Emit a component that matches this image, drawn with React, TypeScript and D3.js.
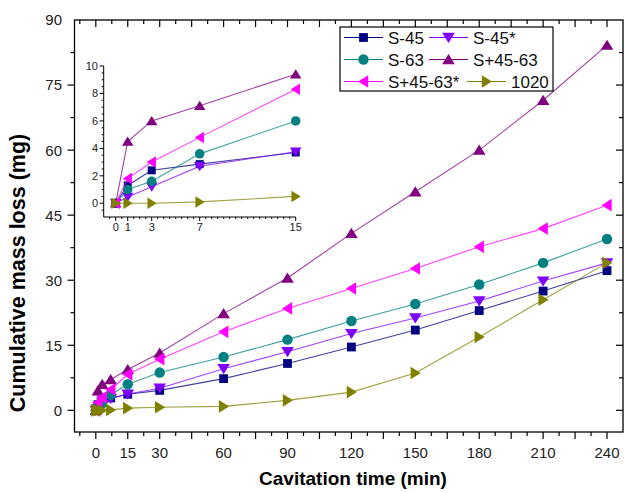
import React, { useEffect, useRef } from 'react';
import * as d3 from 'd3';

// cavitation times (min) and cumulative mass loss (mg)
const times = [0, 1, 3, 7, 15, 30, 60, 90, 120, 150, 180, 210, 240];
const s45 = [0, 1.3, 2.4, 2.85, 3.7, 4.6, 7.3, 10.8, 14.6, 18.5, 23.0, 27.5, 32.2];
const s45star = [0, 0.45, 1.2, 2.7, 3.75, 5.1, 9.6, 13.5, 17.7, 21.3, 25.2, 29.8, 34.0];
const s63 = [0, 1.0, 1.6, 3.6, 6.0, 8.7, 12.3, 16.3, 20.6, 24.5, 29.0, 34.0, 39.5];
const s4563 = [0, 4.5, 6.0, 7.1, 9.4, 13.2, 22.3, 30.5, 40.8, 50.4, 60.0, 71.5, 84.2];
const s4563star = [0, 1.8, 3.0, 4.8, 8.3, 11.8, 18.1, 23.5, 28.1, 32.7, 37.7, 41.9, 47.3];
const steel1020 = [0, 0, 0, 0.1, 0.5, 0.7, 0.9, 2.3, 4.2, 8.6, 16.9, 25.5, 34.0];

const seriesNames = ['S-45', 'S-45*', 'S-63', 'S+45-63', 'S+45-63*', '1020'];
const seriesValues = [s45, s45star, s63, s4563, s4563star, steel1020];
const seriesColors = ['#000080', '#8000ff', '#008080', '#800080', '#ff00ff', '#808000'];
const seriesShapes = ['square', 'down', 'circle', 'up', 'left', 'right'];

const xTickLabels = [0, 15, 30, 60, 90, 120, 150, 180, 210, 240];
const yTickLabels = [0, 15, 30, 45, 60, 75, 90];
const insetMaxTime = 15;
const insetXTickLabels = [0, 1, 3, 7, 15];
const insetYTickLabels = [0, 2, 4, 6, 8, 10];

const FONT = "Arial, 'Liberation Sans', sans-serif";

function markerPath(shape: string, s: number) {
  // s = half size
  switch (shape) {
    case 'square':
      return `M${-s * 0.8},${-s * 0.8}H${s * 0.8}V${s * 0.8}H${-s * 0.8}Z`;
    case 'up':
      return `M0,${-s}L${s * 1.15},${s * 0.85}L${-s * 1.15},${s * 0.85}Z`;
    case 'down':
      return `M0,${s}L${s * 1.15},${-s * 0.85}L${-s * 1.15},${-s * 0.85}Z`;
    case 'left':
      return `M${-s},0L${s * 0.85},${-s * 1.15}L${s * 0.85},${s * 1.15}Z`;
    case 'right':
      return `M${s},0L${-s * 0.85},${-s * 1.15}L${-s * 0.85},${s * 1.15}Z`;
    default:
      return `M${s * 0.95},0A${s * 0.95},${s * 0.95} 0 1,1 ${-s * 0.95},0A${s * 0.95},${s * 0.95} 0 1,1 ${s * 0.95},0Z`;
  }
}

function drawSeries(g: any, x: any, y: any, tMax: number, size: number) {
  seriesValues.forEach((vals, i) => {
    const pts = times.map((t, j) => [t, vals[j]]).filter((d) => d[0] <= tMax);
    const line = d3.line<number[]>().x((d) => x(d[0])).y((d) => y(d[1]));
    g.append('path')
      .attr('d', line(pts))
      .attr('fill', 'none')
      .attr('stroke', seriesColors[i])
      .attr('stroke-opacity', 0.75)
      .attr('stroke-width', 1.1);
    g.selectAll(null)
      .data(pts)
      .enter()
      .append('path')
      .attr('d', markerPath(seriesShapes[i], size))
      .attr('transform', (d: number[]) => `translate(${x(d[0])},${y(d[1])})`)
      .attr('fill', seriesColors[i]);
  });
}

export default function App() {
  const ref = useRef<SVGSVGElement>(null);

  useEffect(() => {
    const svg = d3.select(ref.current);
    svg.selectAll('*').remove();

    const x = d3.scaleLinear().domain([-10, 247.5]).range([74.5, 623]);
    const y = d3.scaleLinear().domain([-5, 90]).range([432, 20]);

    // frame
    svg.append('rect')
      .attr('x', x(-10)).attr('y', y(90))
      .attr('width', x(247.5) - x(-10)).attr('height', y(-5) - y(90))
      .attr('fill', 'none').attr('stroke', '#000').attr('stroke-width', 1.3);

    const isMajor = (v: number, step: number) => Math.abs(v / step - Math.round(v / step)) < 1e-6;

    const ticks = svg.append('g').attr('stroke', '#000').attr('stroke-width', 1.2);
    d3.range(-7.5, 247.5, 7.5).forEach((v) => {
      const len = isMajor(v, 15) ? 7 : 4;
      ticks.append('line').attr('x1', x(v)).attr('x2', x(v)).attr('y1', y(-5)).attr('y2', y(-5) + len);
      ticks.append('line').attr('x1', x(v)).attr('x2', x(v)).attr('y1', y(90)).attr('y2', y(90) + len);
    });
    d3.range(0, 90, 7.5).forEach((v) => {
      const len = isMajor(v, 15) ? 7 : 4;
      ticks.append('line').attr('x1', x(-10)).attr('x2', x(-10) - len).attr('y1', y(v)).attr('y2', y(v));
      ticks.append('line').attr('x1', x(247.5)).attr('x2', x(247.5) - len).attr('y1', y(v)).attr('y2', y(v));
    });

    svg.append('g').selectAll('text').data(xTickLabels).enter().append('text')
      .attr('x', (d) => x(d)).attr('y', 458)
      .attr('text-anchor', 'middle')
      .style('font-family', FONT).style('font-size', '15px').attr('fill', '#222')
      .text((d) => d);

    svg.append('g').selectAll('text').data(yTickLabels).enter().append('text')
      .attr('x', 62).attr('y', (d) => y(d)).attr('dy', '0.36em')
      .attr('text-anchor', 'end')
      .style('font-family', FONT).style('font-size', '15px').attr('fill', '#222')
      .text((d) => d);

    svg.append('text')
      .text('Cavitation time (min)')
      .attr('x', 353).attr('y', 485)
      .attr('text-anchor', 'middle')
      .style('font-family', FONT).style('font-size', '19px').style('font-weight', 'bold');

    svg.append('text')
      .text('Cumulative mass loss (mg)')
      .attr('transform', 'translate(25,273) rotate(-90)')
      .attr('text-anchor', 'middle')
      .style('font-family', FONT).style('font-size', '21.5px').style('font-weight', 'bold');

    // main data
    drawSeries(svg.append('g'), x, y, 240, 5.5);

    // inset
    const xi = d3.scaleLinear().domain([-1, 15]).range([103.7, 295.7]);
    const yi = d3.scaleLinear().domain([-1, 10]).range([217, 66]);
    const inset = svg.append('g');
    const iax = inset.append('g').attr('stroke', '#000').attr('stroke-width', 1);
    iax.append('line').attr('x1', xi(-1)).attr('x2', xi(15)).attr('y1', yi(-1)).attr('y2', yi(-1));
    iax.append('line').attr('x1', xi(-1)).attr('x2', xi(-1)).attr('y1', yi(-1)).attr('y2', yi(10));
    d3.range(-0.5, 15.01, 0.5).forEach((v) => {
      const len = insetXTickLabels.includes(v) ? 4 : 2;
      iax.append('line').attr('x1', xi(v)).attr('x2', xi(v)).attr('y1', yi(-1)).attr('y2', yi(-1) + len);
    });
    d3.range(-0.5, 10.01, 0.5).forEach((v) => {
      const len = insetYTickLabels.includes(v) ? 4 : 2;
      iax.append('line').attr('x1', xi(-1)).attr('x2', xi(-1) - len).attr('y1', yi(v)).attr('y2', yi(v));
    });
    inset.append('g').selectAll('text').data(insetXTickLabels).enter().append('text')
      .attr('x', (d) => xi(d)).attr('y', 231)
      .attr('text-anchor', 'middle')
      .style('font-family', FONT).style('font-size', '11px').attr('fill', '#222')
      .text((d) => d);
    inset.append('g').selectAll('text').data(insetYTickLabels).enter().append('text')
      .attr('x', 98).attr('y', (d) => yi(d)).attr('dy', '0.36em')
      .attr('text-anchor', 'end')
      .style('font-family', FONT).style('font-size', '11px').attr('fill', '#222')
      .text((d) => d);
    drawSeries(inset.append('g'), xi, yi, insetMaxTime, 5);

    // legend: two columns; the last row's second entry sits further right
    const legend = svg.append('g');
    legend.append('rect')
      .attr('x', 340).attr('y', 27).attr('width', 213).attr('height', 64)
      .attr('fill', '#fff').attr('stroke', '#000').attr('stroke-width', 1.2);
    const colX = [[344, 429], [344, 429], [344, 467]];
    const rowY = [37.5, 59.5, 81.5];
    seriesNames.forEach((name, i) => {
      const row = Math.floor(i / 2);
      const cx = colX[row][i % 2];
      const cy = rowY[row];
      legend.append('line')
        .attr('x1', cx).attr('x2', cx + 39).attr('y1', cy).attr('y2', cy)
        .attr('stroke', seriesColors[i]).attr('stroke-width', 1.1);
      legend.append('path')
        .attr('d', markerPath(seriesShapes[i], 5.5))
        .attr('transform', `translate(${cx + 19.5},${cy})`)
        .attr('fill', seriesColors[i]);
      legend.append('text')
        .attr('x', cx + 44).attr('y', cy).attr('dy', '0.36em')
        .style('font-family', FONT).style('font-size', '17px').attr('fill', '#111')
        .text(name);
    });
  }, []);

  return (
    <svg
      ref={ref}
      width={624}
      height={493}
      style={{ position: 'absolute', left: 0, top: 0, background: '#fff' }}
    />
  );
}
